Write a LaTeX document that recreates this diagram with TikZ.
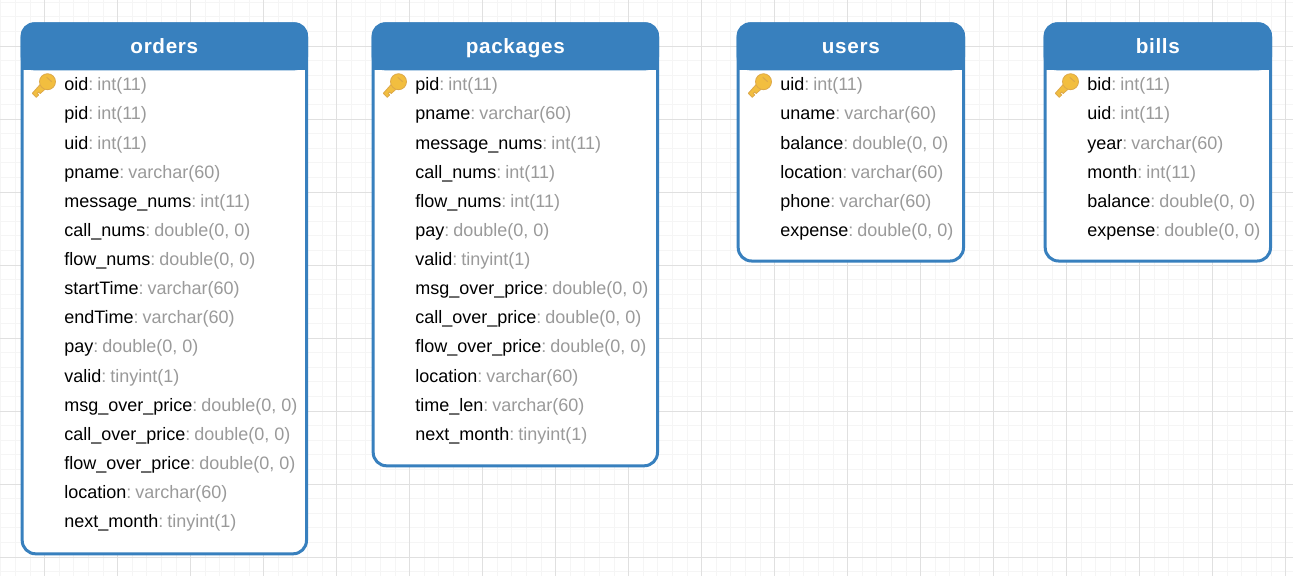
\documentclass[tikz,border=0pt]{standalone}
\usepackage{fontspec}
\setmainfont{Liberation Sans}
\usetikzlibrary{positioning}
\definecolor{blue600}{HTML}{3880BE}
\definecolor{grey300}{HTML}{E0E0E0}
\definecolor{grey100}{HTML}{F5F5F5}
\definecolor{grey500}{HTML}{9A9A9A}
\definecolor{key500}{HTML}{F2BE3F}
\definecolor{key700}{HTML}{DDA94A}
\tikzset{
  tbl/.style    ={draw=blue600, line width=2.25pt, fill=white, rounded corners=10pt,
                  inner sep=0pt},
  head/.style   ={fill=blue600, rounded corners=10pt},
  title/.style  ={font=\fontsize{15.5}{16}\selectfont\bfseries\addfontfeature{LetterSpace=3.3},
                  text=white, inner sep=0pt, text height=10pt, text depth=3pt},
  field/.style  ={font=\fontsize{13.5}{16}\selectfont, anchor=west, inner sep=0pt,
                  text height=10pt, text depth=3pt},
  gridmin/.style={draw=grey100, line width=0.75pt},
  gridmaj/.style={draw=grey300, line width=0.75pt},
  keyicon/.pic  ={
    \draw[draw=key700, fill=key500, line width=0.6pt, line join=round]
      (0,-3.5) -- (-11.4,9.3) -- (-7.5,13.3) -- (-5,11) -- (-6.5,9.5) -- (-5,8) -- (-3.5,9.5)
      -- (5,2) -- cycle;
    \draw[draw=key700, fill=key500, line width=0.6pt] (3.8,-2.3) circle (8*0.75pt);
    \draw[key700, line width=0.75pt] (3,-6.7) -- (8,-2.3);
  }
}
% name of a field, then its type in grey
\newcommand{\fld}[2]{#1\textcolor{grey500}{:\hspace{3pt}#2}}
% x of left side, width, height, name, rows
\newcommand{\dbtable}[5]{
  \node[tbl, minimum width=#2*0.75pt, minimum height=#3*0.75pt, anchor=north west]
    (#4) at (#1,22.3) {};
  \fill[head] (#4.north west) -- (#4.north east) -- ([yshift=-36pt]#4.north east)
    -- ([yshift=-36pt]#4.north west) -- cycle;
  \fill[blue600] ([yshift=-25pt]#4.north west) rectangle ([yshift=-36pt]#4.north east);
  \node[title] (#4-title) at ([yshift=-20pt]#4.north) {#4};
  \pic at (#1+23,84) {keyicon};
  \foreach \n/\t [count=\i] in {#5}
    \node[field] (#4-\i) at (#1+43.3,57+29.13*\i) {\fld{\n}{\t}};
}

\begin{document}
\begin{tikzpicture}[x=0.75pt,y=-0.75pt]
\useasboundingbox (0,0) rectangle (1293,576);
\fill[white] (0,0) rectangle (1293,576);

% grid
\foreach \k in {0,...,88}
  \draw[gridmin] (0.9+14.6*\k,0) -- (0.9+14.6*\k,576);
\foreach \k in {0,...,39}
  \draw[gridmin] (0,2.2+14.6*\k) -- (1293,2.2+14.6*\k);
\foreach \k in {0,...,17}
  \draw[gridmaj] (44.7+73*\k,0) -- (44.7+73*\k,576);
\foreach \k in {0,...,7}
  \draw[gridmaj] (0,46+73*\k) -- (1293,46+73*\k);

\dbtable{20.7}{284.3}{530}{orders}{oid/int(11), pid/int(11), uid/int(11), pname/varchar(60),
  message\_nums/int(11), call\_nums/{double(0, 0)}, flow\_nums/{double(0, 0)},
  startTime/varchar(60), endTime/varchar(60), pay/{double(0, 0)}, valid/tinyint(1),
  msg\_over\_price/{double(0, 0)}, call\_over\_price/{double(0, 0)},
  flow\_over\_price/{double(0, 0)}, location/varchar(60), next\_month/tinyint(1)}
\dbtable{371.7}{284.3}{442}{packages}{pid/int(11), pname/varchar(60), message\_nums/int(11),
  call\_nums/int(11), flow\_nums/int(11), pay/{double(0, 0)}, valid/tinyint(1),
  msg\_over\_price/{double(0, 0)}, call\_over\_price/{double(0, 0)},
  flow\_over\_price/{double(0, 0)}, location/varchar(60), time\_len/varchar(60),
  next\_month/tinyint(1)}
\dbtable{736.7}{225.3}{237.2}{users}{uid/int(11), uname/varchar(60), balance/{double(0, 0)},
  location/varchar(60), phone/varchar(60), expense/{double(0, 0)}}
\dbtable{1043.7}{225.3}{237.2}{bills}{bid/int(11), uid/int(11), year/varchar(60), month/int(11),
  balance/{double(0, 0)}, expense/{double(0, 0)}}
\end{tikzpicture}
\end{document}
